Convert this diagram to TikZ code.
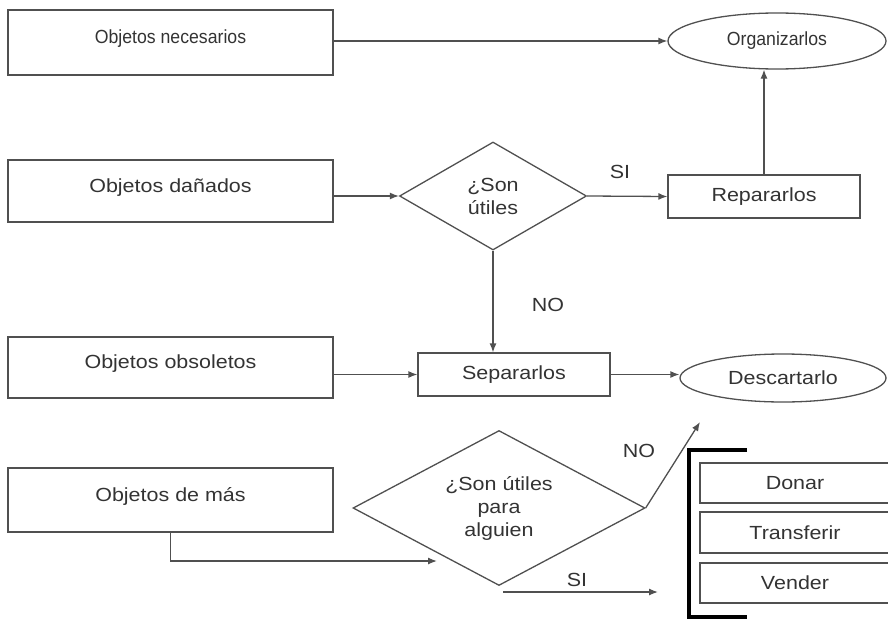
\documentclass[tikz,border=0pt]{standalone}
\usepackage{fontspec}
\setmainfont{Liberation Sans}
\newfontfamily\widefont[FakeStretch=1.13]{Liberation Sans}
\newfontfamily\narrowfont[FakeStretch=0.93]{Liberation Sans}
\usetikzlibrary{shapes.geometric,arrows.meta}
\definecolor{linec}{HTML}{505050}
\definecolor{txtc}{HTML}{333333}
\begin{document}
\begin{tikzpicture}[x=1pt,y=-1pt,
  every node/.style={text=txtc, font=\widefont\fontsize{19}{23}\selectfont},
  leftbox/.style={draw=linec, line width=1.3pt, minimum width=325pt, inner sep=0pt, text depth=11pt},
  midbox/.style={draw=linec, line width=1.3pt, minimum width=192pt, minimum height=43pt, inner sep=0pt},
  optbox/.style={draw=linec, line width=1.3pt, minimum width=190pt, inner sep=0pt},
  oval/.style={draw=linec, line width=1.3pt, ellipse, inner sep=0pt},
  dia/.style={draw=linec, line width=1.3pt, diamond, inner sep=0pt, align=center},
  arr/.style={draw=linec, line width=1.3pt, -{Latex[length=9pt,width=7pt]}},
  brk/.style={draw=black, line width=4.5pt}
]
\useasboundingbox (0,0) rectangle (888,618);
\clip (0,0) rectangle (888,618);

% left boxes
\node[leftbox, minimum height=65pt, font=\narrowfont\fontsize{19}{23}\selectfont] (b1) at (170.5,42.5) {Objetos necesarios};
\node[leftbox, minimum height=62pt] (b2) at (170.5,191) {Objetos dañados};
\node[leftbox, minimum height=61pt] (b3) at (170.5,367.5) {Objetos obsoletos};
\node[leftbox, minimum height=64pt] (b4) at (170.5,500) {Objetos de más};

% ovals
\node[oval, minimum width=218pt, minimum height=56pt, font=\narrowfont\fontsize{19}{23}\selectfont] (org) at (777,41) {Organizarlos};
\node[oval, minimum width=206pt, minimum height=48pt] (des) at (783,378) {Descartarlo};

% middle boxes
\node[midbox] (rep) at (764,196.5) {Repararlos};
\node[midbox] (sep) at (514,374.5) {Separarlos};

% diamonds
\node[dia, aspect=1.73, minimum width=187pt, minimum height=108pt] (d1) at (493,196) {¿Son\\útiles};
\node[dia, aspect=1.9, minimum width=292pt, minimum height=155pt] (d2) at (499,508) {¿Son útiles\\para\\alguien};

% option boxes
\node[optbox, minimum height=40pt] (don) at (795,483) {Donar};
\node[optbox, minimum height=41pt] (tra) at (795,532.5) {Transferir};
\node[optbox, minimum height=40pt] (ven) at (795,583) {Vender};

% bracket
\coordinate (brt) at (747,450);
\coordinate (brc) at (689,617);
\coordinate (brb) at (747,617);
\draw[brk] (brt) -| (brc) -- (brb);

% labels
\node (si1) at (620,172) {SI};
\node (no1) at (548,305) {NO};
\node (no2) at (639,451) {NO};
\node (si2) at (577,580) {SI};

% free ends
\coordinate (in2) at (437,561);
\coordinate (noend) at (700,422);
\coordinate (sis) at (503,592);
\coordinate (sie) at (658,592);

% connectors
\draw[arr] (b1.east |- org.west) -- (org.west);
\draw[arr] (b2.east |- d1.west) -- (d1.west);
\draw[arr] (d1.east) -- (rep.west);
\draw[arr] (rep.north) -- (rep.north |- org.south);
\draw[arr] (d1.south) -- (d1.south |- sep.north);
\draw[arr] (b3.east |- sep.west) -- (sep.west);
\draw[arr] (sep.east) -- (sep.east -| des.west);
\draw[arr] (b4.south) |- (in2);
\draw[arr] (d2.east) -- (noend);
\draw[arr] (sis) -- (sie);
\end{tikzpicture}
\end{document}
